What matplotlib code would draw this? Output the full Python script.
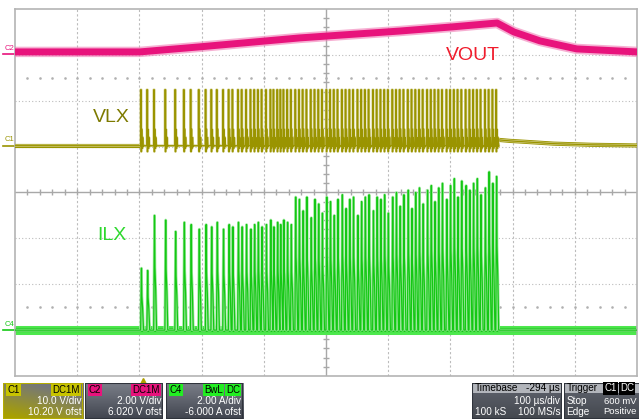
import numpy as np
import matplotlib.pyplot as plt
from matplotlib.patches import Rectangle

plt.rcParams["font.family"] = ["Liberation Sans", "DejaVu Sans"]

W, H, DPI = 639, 419, 100

# horizontal: 100 us/div, trigger delay -294 us -> screen starts at -206 us
T_LEFT = -206.0
T_PER_DIV = 100.0

# channel settings: scale per div and offset
C1_VDIV, C1_OFST = 10.0, 10.20   # VLX
C2_VDIV, C2_OFST = 2.0, 6.020    # VOUT
C4_ADIV, C4_OFST = 2.0, -6.000   # ILX

# VOUT (V) vs time (us)
vout_t = [-206, -5, 91, 252, 413, 497, 569, 596, 638, 697, 794]
vout_v = [0.11, 0.11, 0.33, 0.72, 1.02, 1.20, 1.37, 0.98, 0.59, 0.24, 0.11]

# switching pulses (us) seen on VLX / ILX
pulse_t = [-4, 6, 17, 35, 51, 65, 76, 89, 100, 109, 118, 128, 137, 143, 152,
           158, 165, 172, 178, 184, 190, 197, 204, 209, 215, 220, 225, 231, 237, 244,
           250, 256, 262, 269, 275, 281, 287, 294, 300, 306,
           312, 319, 325, 331, 337, 344, 350, 356, 362, 369,
           375, 381, 387, 393, 400, 406, 412, 418, 425, 431,
           437, 443, 449, 456, 462, 468, 474, 480, 487, 493,
           499, 505, 511, 518, 524, 530, 536, 542, 549, 555,
           561, 567]
vlx_high = 12.2

# VLX ringing after each pulse (us after pulse start, V)
ring_dt = [1.0, 1.0, 1.8, 2.6, 3.4, 4.2, 5.0]
ring_v = [vlx_high, -1.3, 3.6, -0.6, 1.8, -0.2, 0.0]

# VLX after switching stops (V)
vlx_tail_t = [569, 590, 620, 660, 720, 794]
vlx_tail_v = [1.30, 1.05, 0.80, 0.45, 0.20, 0.05]

# ILX peak current of each pulse (A)
ilx_peak = [2.7, 2.6, 5.0, 4.8, 4.3, 4.7, 4.6, 4.4, 4.6, 4.5, 4.7, 4.4, 4.6, 4.5, 4.7,
            4.5, 4.6, 4.4, 4.6, 4.7, 4.5, 4.6, 4.8, 4.5, 4.7, 4.6, 4.8, 4.7, 4.6, 5.8,
            5.7, 5.2, 5.8, 4.9, 5.7, 5.5, 5.1, 5.8, 5.6, 5.0,
            5.7, 5.9, 5.3, 5.7, 5.8, 5.0, 5.6, 5.8, 5.9, 5.2,
            5.8, 5.7, 5.9, 5.1, 5.8, 6.0, 5.4, 5.9, 6.1, 5.3,
            6.0, 6.2, 5.5, 6.1, 6.3, 5.6, 6.2, 6.4, 5.7, 6.3,
            6.6, 5.8, 6.5, 6.3, 6.1, 6.4, 6.6, 5.9, 6.2, 6.9,
            6.4, 6.7]
# ILX pulse shape: time after pulse start (us) and fraction of the peak
ilx_dt = [1.3, 1.9, 3.2, 4.6]
ilx_frac = [1.0, 0.55, 0.35, 0.0]

COL_VOUT = "#e8137c"
COL_VLX = "#9a9400"
COL_ILX = "#14c814"


def xdiv(t):
    return (np.asarray(t, dtype=float) - T_LEFT) / T_PER_DIV


def ydiv(v, scale, ofst):
    return (np.asarray(v, dtype=float) + ofst) / scale


def px(x, y):
    return x / W, 1 - y / H


fig = plt.figure(figsize=(W / DPI, H / DPI), dpi=DPI)
fig.patch.set_facecolor("white")
ax = fig.add_axes([15 / W, 43 / H, 622 / W, 367 / H])
ax.set_xlim(0, 10)
ax.set_ylim(-4, 4)
ax.set_xticks([])
ax.set_yticks([])
for s in ax.spines.values():
    s.set_color("#b4b4b4")
    s.set_linewidth(1.2)

# graticule
for i in range(1, 10):
    if i != 5:
        ax.axvline(i, color="#bcbcbc", lw=0.8, ls=(0, (2, 2)), zorder=0)
for j in range(-3, 4):
    if j != 0:
        ax.axhline(j, color="#bcbcbc", lw=0.8, ls=(0, (1, 2)), zorder=0)
ax.axvline(5, color="#a8a8a8", lw=1.0, zorder=0)
ax.axhline(0, color="#a8a8a8", lw=1.0, zorder=0)
minor_x = np.arange(0.2, 10, 0.2)
minor_y = np.arange(-3.8, 4, 0.2)
ax.plot(minor_x, np.zeros_like(minor_x), ls="none", marker="|", ms=4, color="#a8a8a8", zorder=0)
ax.plot(np.full_like(minor_y, 5), minor_y, ls="none", marker="_", ms=4, color="#a8a8a8", zorder=0)
for yy in (2.5, -2.5):
    ax.plot(minor_x, np.full_like(minor_x, yy), ls="none", marker="s", ms=0.8, color="#b0b0b0", zorder=0)

t_right = T_LEFT + 10 * T_PER_DIV

# ILX
ilx_t, ilx_v = [T_LEFT], [0.0]
for tp, pk in zip(pulse_t, ilx_peak):
    ilx_t += [tp] + [tp + d for d in ilx_dt]
    ilx_v += [0.0] + [pk * f for f in ilx_frac]
ilx_t.append(t_right)
ilx_v.append(0.0)
ax.plot(xdiv([T_LEFT, t_right]), ydiv([0, 0], C4_ADIV, C4_OFST), color="#4ee84e", lw=6.5, solid_capstyle="butt", zorder=2)
ax.plot(xdiv([T_LEFT, t_right]), ydiv([0, 0], C4_ADIV, C4_OFST), color=COL_ILX, lw=3, solid_capstyle="butt", zorder=2)
ax.plot(xdiv(ilx_t), ydiv(ilx_v, C4_ADIV, C4_OFST), color="#9ee89e", lw=2.0, zorder=2)
ax.plot(xdiv(ilx_t), ydiv(ilx_v, C4_ADIV, C4_OFST), color=COL_ILX, lw=0.9, zorder=3)

# VLX
vlx_t, vlx_v = [T_LEFT], [0.0]
for tp in pulse_t:
    vlx_t += [tp, tp] + [tp + d for d in ring_dt]
    vlx_v += [0.0, vlx_high] + ring_v
vlx_t += vlx_tail_t
vlx_v += vlx_tail_v
ax.plot(xdiv([T_LEFT, pulse_t[0]]), ydiv([0, 0], C1_VDIV, C1_OFST), color=COL_VLX, lw=3, solid_capstyle="butt", zorder=4)
ax.plot(xdiv(vlx_tail_t), ydiv(vlx_tail_v, C1_VDIV, C1_OFST), color=COL_VLX, lw=3, zorder=4)
ax.plot(xdiv(vlx_t), ydiv(vlx_v, C1_VDIV, C1_OFST), color="#d3cf8a", lw=1.8, zorder=4)
ax.plot(xdiv(vlx_t), ydiv(vlx_v, C1_VDIV, C1_OFST), color=COL_VLX, lw=0.9, zorder=5)

# VOUT
ax.plot(xdiv(vout_t), ydiv(vout_v, C2_VDIV, C2_OFST), color="#f07ab4", lw=7.5, alpha=0.6, zorder=6)
ax.plot(xdiv(vout_t), ydiv(vout_v, C2_VDIV, C2_OFST), color=COL_VOUT, lw=5, zorder=7)

# trace labels
fig.text(*px(473, 56), "VOUT", color="#f01c2c", fontsize=14, ha="center", va="center")
fig.text(*px(111, 117), "VLX", color="#7d7a00", fontsize=14, ha="center", va="center")
fig.text(*px(112, 235), "ILX", color="#2ed82e", fontsize=14, ha="center", va="center")

# channel ground markers on the left
for name, col, lvl in (("C2", COL_VOUT, C2_OFST / C2_VDIV),
                       ("C1", COL_VLX, C1_OFST / C1_VDIV),
                       ("C4", COL_ILX, C4_OFST / C4_ADIV)):
    ax.text(-0.17, lvl + 0.05, name, color=col, fontsize=5.5, ha="left", va="bottom", clip_on=False)
    ax.plot([-0.19, 0], [lvl, lvl], color=col, lw=1.2, clip_on=False)

# trigger position marker
ax.plot(xdiv([0]), [-4.1], marker="^", ms=5, color="#b0a000", ls="none", clip_on=False)


def panel(x0, x1, top_col, bot_col, edge, header=None):
    pax = fig.add_axes([x0 / W, 0, (x1 - x0) / W, 36 / H])
    pax.set_xlim(0, 1)
    pax.set_ylim(0, 1)
    pax.axis("off")
    c_top = np.array(plt.matplotlib.colors.to_rgb(top_col))
    c_bot = np.array(plt.matplotlib.colors.to_rgb(bot_col))
    fr = np.linspace(0, 1, 40)[:, None, None]
    img = c_top * (1 - fr) + c_bot * fr
    pax.imshow(img, extent=[0, 1, 0, 1], aspect="auto", zorder=0)
    if header is not None:
        pax.add_patch(Rectangle((0, 0.72), 1, 0.28, fc=header, ec="none", zorder=1))
    pax.add_patch(Rectangle((0, 0), 1, 1, fc="none", ec=edge, lw=1.5, zorder=3))
    return pax


def badge(pax, x, y, s, fc, tc="black", ha="left"):
    pax.text(x, y, s, color=tc, fontsize=7, ha=ha, va="center", zorder=4,
             bbox=dict(boxstyle="square,pad=0.12", fc=fc, ec="none"))


def row(pax, x, y, s, ha="right", col="white", size=7.2):
    pax.text(x, y, s, color=col, fontsize=size, ha=ha, va="center", zorder=4)


# C1 panel (selected, olive gradient)
p1 = fig.add_axes([3 / W, 0, 80 / W, 36 / H])
p1.set_xlim(0, 1)
p1.set_ylim(0, 1)
p1.axis("off")
gy, gx = np.mgrid[0:1:40j, 0:1:80j]
mix = np.clip(gy * 0.9 + (1 - gx) * 0.45 - 0.25, 0, 1)[..., None]
gray = np.array([0.45, 0.46, 0.50])
olive = np.array([0.66, 0.63, 0.0])
p1.imshow(gray * (1 - mix) + olive * mix, extent=[0, 1, 0, 1], aspect="auto", zorder=0)
p1.add_patch(Rectangle((0, 0), 1, 1, fc="none", ec="#b4ac00", lw=1.5, zorder=3))
badge(p1, 0.05, 0.8, "C1", "#c8c400")
badge(p1, 0.96, 0.8, "DC1M", "#c8c400", ha="right")
row(p1, 0.98, 0.5, "10.0 V/div")
row(p1, 0.98, 0.2, "10.20 V ofst")

p2 = panel(85, 163, "#7a7e88", "#41454f", "#30343c")
badge(p2, 0.05, 0.8, "C2", "#e8137c")
badge(p2, 0.96, 0.8, "DC1M", "#e8137c", ha="right")
row(p2, 0.98, 0.5, "2.00 V/div")
row(p2, 0.98, 0.2, "6.020 V ofst")

p4 = panel(166, 243, "#7a7e88", "#41454f", "#30343c")
badge(p4, 0.05, 0.8, "C4", "#22ee22")
badge(p4, 0.74, 0.8, "BwL", "#22ee22", ha="right")
badge(p4, 0.96, 0.8, "DC", "#22ee22", ha="right")
row(p4, 0.98, 0.5, "2.00 A/div")
row(p4, 0.98, 0.2, "-6.000 A ofst")

pt = panel(472, 562, "#60646e", "#44484f", "#30343c", header="#b2b5bb")
row(pt, 0.03, 0.85, "Timebase", ha="left", col="black")
row(pt, 0.98, 0.85, "-294 µs", col="black")
row(pt, 0.98, 0.5, "100 µs/div")
row(pt, 0.03, 0.2, "100 kS", ha="left")
row(pt, 0.98, 0.2, "100 MS/s")

pg = panel(564, 642, "#60646e", "#44484f", "#30343c", header="#b2b5bb")
row(pg, 0.03, 0.85, "Trigger", ha="left", col="black")
badge(pg, 0.52, 0.85, "C1", "black", tc="white")
badge(pg, 0.72, 0.85, "DC", "black", tc="white")
row(pg, 0.03, 0.5, "Stop", ha="left")
row(pg, 0.925, 0.5, "600 mV", size=6.8)
row(pg, 0.03, 0.2, "Edge", ha="left")
row(pg, 0.925, 0.2, "Positive", size=6.8)

fig.savefig("out.png", dpi=DPI, facecolor="white")
